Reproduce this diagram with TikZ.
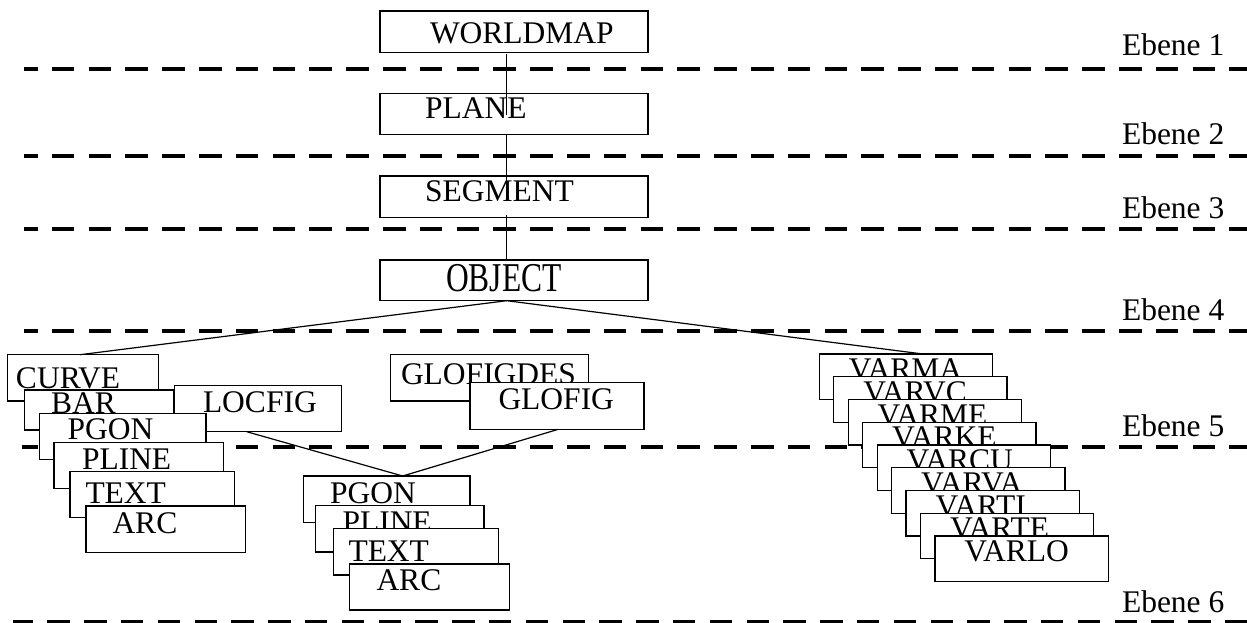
\documentclass[tikz,border=0pt]{standalone}
\usepackage{fontspec}
\usepackage{graphicx}
\setmainfont{Liberation Serif}
\usetikzlibrary{calc}
\tikzset{
  bx/.style={draw=black, fill=white, line width=1.2pt, inner sep=0pt, outer sep=0pt, anchor=north west},
  lbl/.style={inner sep=0pt, outer sep=0pt, anchor=base west, font=\fontsize{31.5}{36}\selectfont},
  lvl/.style={line width=4.3pt, dash pattern=on 22.5pt off 14.3pt},
  conn/.style={line width=1.2pt},
}
\newcommand\mybox[8]{%
  \node[bx, minimum width={(#4-#2)*1pt}, minimum height={(#5-#3)*1pt}] (#1) at (#2,#3) {};
  \node[lbl] (#1-t) at (#6,#7) {#8};
}
\begin{document}
\begin{tikzpicture}[x=1pt,y=-1pt]
\useasboundingbox (0,0) rectangle (1247,623);

% level separators
\draw[lvl, dash phase=9pt] (24,69) -- (1247,69);
\draw[lvl, dash phase=9pt] (24,155.7) -- (1247,155.7);
\draw[lvl, dash phase=9pt] (24,229.3) -- (1247,229.3);
\draw[lvl, dash phase=9pt] (24,331) -- (1247,331);
\draw[lvl, dash phase=6.7pt] (21.7,447) -- (1247,447);
\draw[lvl, dash phase=2.5pt] (13,621.7) -- (1247,621.7);

% level labels
\node[lbl] (e1) at (1122,56) {Ebene 1};
\node[lbl] (e2) at (1122,145) {Ebene 2};
\node[lbl] (e3) at (1122,218.3) {Ebene 3};
\node[lbl] (e4) at (1122,320) {Ebene 4};
\node[lbl] (e5) at (1122,436.7) {Ebene 5};
\node[lbl] (e6) at (1122,612.7) {Ebene 6};

% trunk
\mybox{wm}{380}{11}{648}{52.3}{430}{43.3}{WORLDMAP}
\mybox{pl}{380}{93.7}{648}{134.7}{425}{118.3}{PLANE}
\mybox{seg}{380}{176}{648}{217.3}{425}{201.7}{SEGMENT}
\node[bx, minimum width=268pt, minimum height=40.7pt] (obj) at (380,260) {};
\node[lbl] (obj-t) at (446,291.5) {\scalebox{1}[1.3]{OBJECT}};

% left stack
\mybox{curve}{7.3}{354.7}{158.7}{401}{16}{388.3}{CURVE}
\mybox{bar}{24.3}{390}{174}{430}{51}{413.5}{BAR}
\mybox{loc}{174.7}{385.7}{341.7}{431.7}{203}{412.7}{LOCFIG}
\mybox{pg}{39.3}{413.3}{206}{459.3}{67.5}{439.3}{PGON}
\mybox{pli}{54}{442.3}{223.3}{488.3}{82}{469.3}{PLINE}
\mybox{tx}{70}{471.7}{234.3}{517.7}{85.5}{503.3}{TEXT}
\mybox{arc}{86}{506}{245.7}{552.3}{112.5}{533.3}{ARC}

% middle
\mybox{gdes}{390.7}{354.7}{588.3}{401}{401}{384.5}{GLOFIGDES}
\mybox{glo}{470}{382.7}{644}{429.3}{498.5}{409.3}{GLOFIG}
\mybox{pgb}{303.3}{476}{470}{522.7}{330}{503.3}{PGON}
\mybox{plib}{315.3}{505.7}{484}{552}{342.5}{532.2}{PLINE}
\mybox{txb}{333.3}{528.7}{498.3}{575}{348.5}{561}{TEXT}
\mybox{arcb}{349.3}{564}{509.3}{610}{376.5}{590.7}{ARC}

% right stack
\foreach \t [count=\i from 0] in {VARMA,VARVC,VARME,VARKE,VARCU,VARVA,VARTI,VARTE,VARLO} {
  \pgfmathsetmacro\xa{819.3+14.46*\i}
  \pgfmathsetmacro\ya{354+22.75*\i}
  \node[bx, minimum width=173.3pt, minimum height=45.5pt] (v\i) at (\xa,\ya) {};
  \node[lbl] (v\i-t) at (\xa+29.5,\ya+25.5) {\t};
}

% connectors
\draw[conn] ([xshift=-7.3pt,yshift=-1.5pt]wm.south) -- ([xshift=-7.3pt,yshift=-21pt]pl.north);
\draw[conn] ([xshift=-7.3pt]pl.south) -- ([xshift=-7.3pt,yshift=-5pt]seg.north);
\draw[conn] ([xshift=-7.3pt,yshift=2pt]seg.south) -- ([xshift=-7.3pt]obj.north);
\draw[conn] ([xshift=-7.3pt]obj.south) -- ([xshift=-3pt]curve.north);
\draw[conn] ([xshift=-7.3pt]obj.south) -- ([xshift=17pt]v0.north);
\draw[conn] ([xshift=-11.5pt]loc.south) -- ([xshift=16pt]pgb.north);
\draw[conn] ([xshift=1.3pt]glo.south) -- ([xshift=16pt]pgb.north);
\end{tikzpicture}
\end{document}
